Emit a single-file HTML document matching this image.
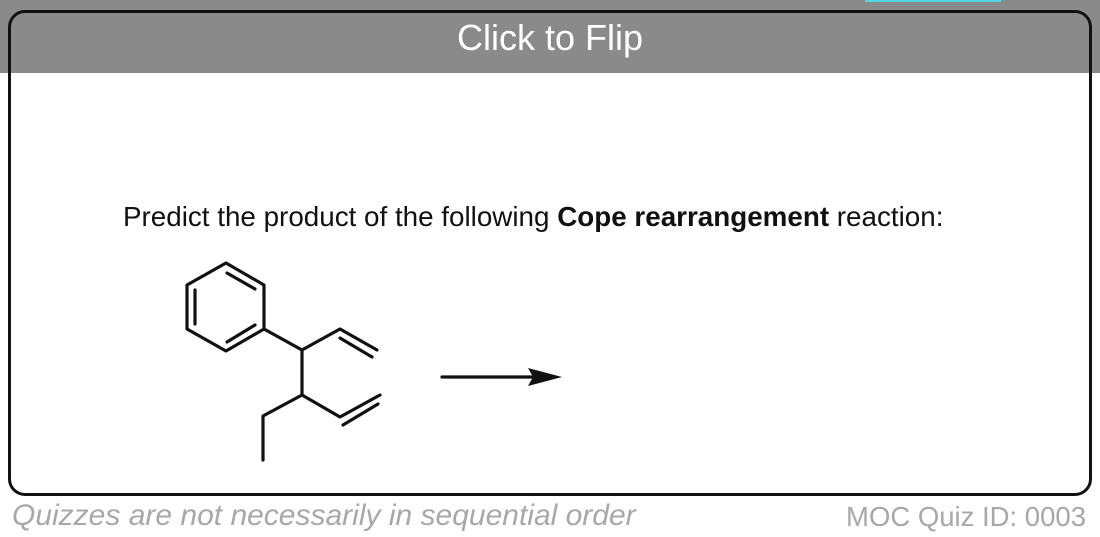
<!DOCTYPE html>
<html><head><style>
html,body{margin:0;padding:0;width:1100px;height:537px;overflow:hidden;background:#fff;position:relative;font-family:"Liberation Sans",Arial,sans-serif}
.hdr{position:absolute;left:0;top:0;width:1100px;height:73px;background:#8a8a8a}
.cy{position:absolute;left:865px;top:0;width:136px;height:2px;background:#4fd6e0}
.card{position:absolute;left:8px;top:10px;width:1078px;height:480px;border:3px solid #111;border-radius:17px}
.flip{position:absolute;left:0;width:1100px;top:17px;text-align:center;color:#fff;font-size:36px;line-height:42px}
.q{position:absolute;left:123px;top:201px;font-size:27.8px;line-height:32px;color:#111;white-space:nowrap}
.f1{position:absolute;left:12px;top:498px;font-size:30px;line-height:36px;font-style:italic;color:#a8a8a8;white-space:nowrap}
.f2{position:absolute;right:14px;top:500px;font-size:27.5px;line-height:34px;color:#a8a8a8;white-space:nowrap}
</style></head><body>
<div class="hdr"></div><div class="cy"></div>
<div class="card"></div>
<div class="flip">Click to Flip</div>
<div class="q">Predict the product of the following <b>Cope rearrangement</b> reaction:</div>
<svg width="1100" height="537" style="position:absolute;left:0;top:0">
<g stroke="#111" stroke-width="3.2" fill="none" stroke-linecap="round" stroke-linejoin="round">
<polygon points="226,263 264,285 264,329 226,351 187,329 187,285"/>
<line x1="195" y1="290" x2="195" y2="324"/>
<line x1="227" y1="273" x2="255" y2="289"/>
<line x1="227" y1="342" x2="255" y2="325"/>
<polyline points="264,329 302,350 340,329 377,350"/>
<line x1="340" y1="338" x2="372" y2="357"/>
<line x1="302" y1="350" x2="302" y2="395"/>
<polyline points="263,460 263,416 302,395 340,417 380,395"/>
<line x1="343" y1="425" x2="378" y2="404"/>
<line x1="442" y1="377" x2="535" y2="377"/>
</g>
<polygon points="528,368 562,377 528,386 533,377" fill="#111"/>
</svg>
<div class="f1">Quizzes are not necessarily in sequential order</div>
<div class="f2">MOC Quiz ID: 0003</div>
</body></html>
